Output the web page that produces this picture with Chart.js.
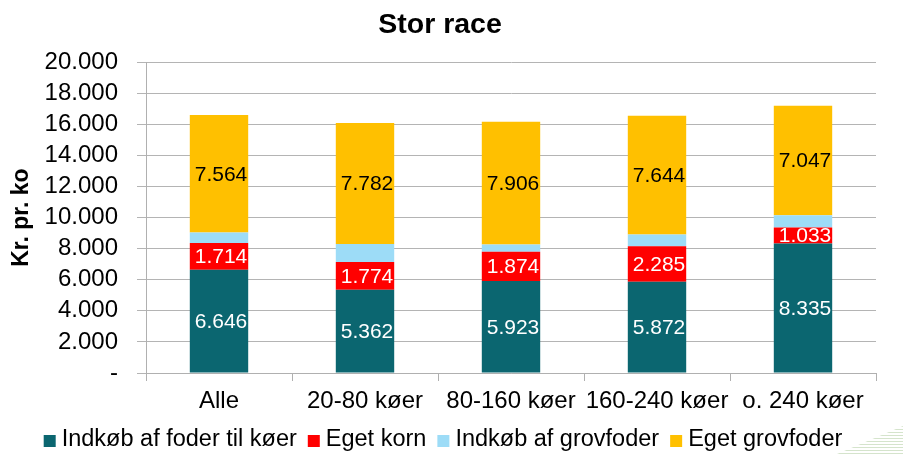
<!DOCTYPE html>
<html>
<head>
<meta charset="utf-8">
<script src="https://cdn.jsdelivr.net/npm/chart.js@4.4.0/dist/chart.umd.min.js"></script>
<style>
    html, body { margin: 0; padding: 0; background: #fff; }
    #wrap { position: relative; width: 903px; height: 454px; }
    #corner {
        position: absolute; right: 0; bottom: 0; width: 66px; height: 28px;
        background: repeating-linear-gradient(0deg, #d5e4cc 0 1px, #fff 1px 3px);
        clip-path: polygon(100% 0, 100% 100%, 0 100%);
    }
</style>
</head>
<body>
<div id="wrap">
    <canvas id="chart" width="903" height="454"></canvas>
    <div id="corner"></div>
</div>
<script>
// Data
const categories = ['Alle', '20-80 køer', '80-160 køer', '160-240 køer', 'o. 240 køer'];
const indkobFoder = [6646, 5362, 5923, 5872, 8335];
const egetKorn = [1714, 1774, 1874, 2285, 1033];
const indkobGrovfoder = [680, 1170, 470, 750, 790];
const egetGrovfoder = [7564, 7782, 7906, 7644, 7047];

const fmt = v => v === 0 ? '-' : v.toLocaleString('de-DE');
const font = '"Liberation Sans", Arial, sans-serif';

// Etiketter inde i segmenterne
const labelPlugin = {
    id: 'segLabels',
    afterDatasetsDraw(chart) {
        const ctx = chart.ctx;
        ctx.save();
        ctx.font = '21px ' + font;
        ctx.textAlign = 'center';
        ctx.textBaseline = 'middle';
        chart.data.datasets.forEach((ds, i) => {
            if (!ds.labelColor) return;
            const meta = chart.getDatasetMeta(i);
            meta.data.forEach((bar, j) => {
                const y = (bar.y + bar.base) / 2;
                ctx.fillStyle = ds.labelColor;
                ctx.fillText(fmt(ds.data[j]), bar.x + 2, y + 1);
            });
        });
        ctx.restore();
    }
};

// Forklaring i bunden (tæt afstand mellem firkant og tekst som i Excel)
const legendPlugin = {
    id: 'bottomLegend',
    afterDraw(chart) {
        const ctx = chart.ctx;
        ctx.save();
        ctx.font = '23.5px ' + font;
        ctx.textBaseline = 'middle';
        ctx.textAlign = 'left';
        const box = 12, gap = 6, itemGap = 11;
        const items = chart.data.datasets.map(ds => ({
            text: ds.label, color: ds.backgroundColor, w: ctx.measureText(ds.label).width
        }));
        const total = items.reduce((s, it) => s + box + gap + it.w, 0) + itemGap * (items.length - 1);
        let x = 443 - total / 2;
        const y = 440;
        items.forEach(it => {
            ctx.fillStyle = it.color;
            ctx.fillRect(x, y - 5, box, box);
            ctx.fillStyle = '#000';
            ctx.fillText(it.text, x + box + gap, y);
            x += box + gap + it.w + itemGap;
        });
        ctx.restore();
    }
};

new Chart(document.getElementById('chart'), {
    type: 'bar',
    data: {
        labels: categories,
        datasets: [
            { label: 'Indkøb af foder til køer', data: indkobFoder, backgroundColor: '#0B6670', labelColor: '#ffffff' },
            { label: 'Eget korn', data: egetKorn, backgroundColor: '#FF0000', labelColor: '#ffffff' },
            { label: 'Indkøb af grovfoder', data: indkobGrovfoder, backgroundColor: '#9DDCF7' },
            { label: 'Eget grovfoder', data: egetGrovfoder, backgroundColor: '#FFC000', labelColor: '#000000' }
        ]
    },
    options: {
        responsive: false,
        animation: false,
        layout: { padding: { left: 4, right: 27, top: 0, bottom: 38 } },
        datasets: { bar: { categoryPercentage: 0.4, barPercentage: 1.0 } },
        plugins: {
            title: {
                display: true,
                text: 'Stor race',
                color: '#000',
                font: { family: font, size: 28.5, weight: 'bold' },
                padding: { top: 8, bottom: 20 }
            },
            legend: { display: false },
            tooltip: { enabled: false }
        },
        scales: {
            x: {
                stacked: true,
                afterFit: s => { s.height = 43; },
                grid: { drawOnChartArea: false, color: '#b0b0b0', tickLength: 8 },
                border: { color: '#b0b0b0' },
                ticks: {
                    color: '#000',
                    font: { family: font, size: 24 },
                    padding: 6,
                    autoSkip: false,
                    maxRotation: 0,
                    minRotation: 0
                }
            },
            y: {
                stacked: true,
                min: 0,
                max: 20000,
                afterFit: s => { s.width = 142; },
                grid: { color: '#b4b4b4', tickLength: 9 },
                border: { color: '#b0b0b0' },
                ticks: {
                    stepSize: 2000,
                    autoSkip: false,
                    color: '#000',
                    font: { family: font, size: 24 },
                    padding: 19,
                    callback: v => fmt(v)
                },
                title: {
                    display: true,
                    text: 'Kr. pr. ko',
                    color: '#000',
                    font: { family: font, size: 23, weight: 'bold' },
                    padding: { top: 4, bottom: 9 }
                }
            }
        }
    },
    plugins: [labelPlugin, legendPlugin]
});
</script>
</body>
</html>
